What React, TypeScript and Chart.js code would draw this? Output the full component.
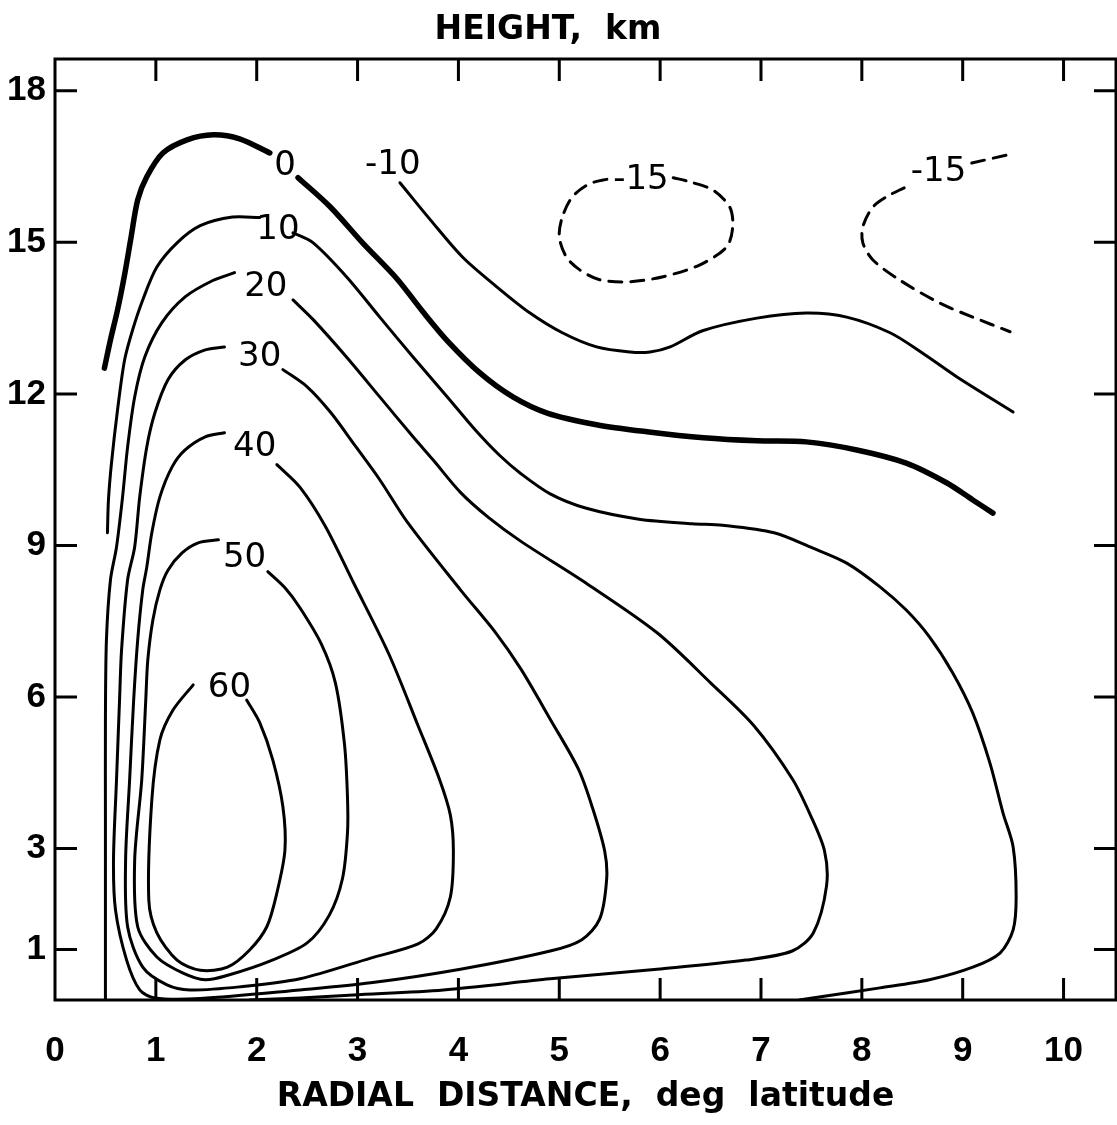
import React, { useEffect, useRef } from "react";
import { Chart, registerables } from "chart.js";

Chart.register(...registerables);

type Pt = [number, number];

// ---- axes ----
const xTickValues = [0, 1, 2, 3, 4, 5, 6, 7, 8, 9, 10];
const yTickValues = [1, 3, 6, 9, 12, 15, 18];
const xAxisMax = 10.52;
const yAxisMax = 18.63;

// ---- contour lines (radial distance, height) ----
const zeroLeft: Pt[] = [[0.49,12.51],[0.55,13.07],[0.62,13.66],[0.69,14.36],[0.75,15.05],[0.82,15.84],[0.91,16.30],[1.07,16.77],[1.31,17.03],[1.57,17.13],[1.83,17.05],[2.13,16.77]];
const zeroRight: Pt[] = [[2.41,16.28],[2.73,15.70],[3.05,14.99],[3.39,14.28],[3.65,13.62],[3.89,13.05],[4.21,12.42],[4.54,11.94],[4.88,11.62],[5.37,11.39],[5.87,11.25],[6.43,11.13],[6.96,11.07],[7.45,11.05],[7.95,10.89],[8.44,10.63],[8.84,10.24],[9.10,9.90],[9.30,9.64]];
const minus10: Pt[] = [[3.42,16.18],[3.72,15.45],[4.04,14.71],[4.38,14.12],[4.71,13.60],[5.03,13.21],[5.37,12.93],[5.70,12.83],[5.90,12.83],[6.10,12.93],[6.42,13.25],[6.96,13.50],[7.45,13.60],[7.85,13.52],[8.28,13.21],[8.60,12.81],[8.94,12.34],[9.50,11.64]];
const minus15Loop: Pt[] = [[6.13,16.28],[6.29,16.20],[6.52,16.04],[6.69,15.70],[6.72,15.31],[6.66,14.91],[6.39,14.55],[6.03,14.32],[5.70,14.22],[5.40,14.26],[5.20,14.46],[5.07,14.71],[5.00,15.11],[5.03,15.50],[5.13,15.90],[5.30,16.16],[5.50,16.26]];
const minus15Tail: Pt[] = [[9.09,16.57],[9.44,16.73]];
const minus15Right: Pt[] = [[8.42,16.08],[8.26,15.92],[8.11,15.70],[8.01,15.31],[8.01,14.99],[8.11,14.65],[8.37,14.26],[8.77,13.80],[9.10,13.52],[9.47,13.23]];
const ten1: Pt[] = [[2.03,15.49],[1.76,15.50],[1.44,15.33],[1.21,14.99],[1.01,14.51],[0.87,13.86],[0.77,13.27],[0.69,12.67],[0.62,11.68],[0.56,10.63],[0.53,9.90],[0.52,9.25]];
const ten2: Pt[] = [[2.36,15.19],[2.56,14.99],[2.89,14.32],[3.22,13.52],[3.55,12.73],[3.89,11.94],[4.17,11.28],[4.41,10.78],[4.62,10.42],[4.91,10.02],[5.26,9.74],[5.79,9.52],[6.32,9.43],[6.62,9.40],[7.13,9.25],[7.51,8.95],[7.85,8.65],[8.18,8.18],[8.44,7.72],[8.67,7.19],[8.90,6.48],[9.10,5.68],[9.27,4.69],[9.40,3.70],[9.50,3.03],[9.53,2.04],[9.50,1.39],[9.37,0.93],[9.10,0.65],[8.67,0.40],[8.18,0.24],[7.51,0.04],[7.38,0]];
const twenty1: Pt[] = [[1.78,14.40],[1.56,14.24],[1.29,13.92],[1.06,13.41],[0.89,12.73],[0.79,11.94],[0.72,10.95],[0.67,9.96],[0.61,8.97],[0.55,8.32],[0.51,7.13],[0.50,5.54],[0.50,3.56],[0.50,1.98],[0.50,0]];
const twenty2: Pt[] = [[2.36,13.86],[2.56,13.47],[2.89,12.73],[3.22,11.94],[3.55,11.15],[3.75,10.69],[4.02,10.05],[4.30,9.55],[4.62,9.08],[5.26,8.26],[5.97,7.27],[6.50,6.28],[6.93,5.43],[7.31,4.38],[7.49,3.66],[7.63,2.95],[7.65,2.26],[7.52,1.33],[7.31,0.97],[6.85,0.79],[5.97,0.61],[4.91,0.42],[3.85,0.20],[2.96,0.10],[2.43,0.04],[1.93,0]];
const thirty: Pt[] = [[1.68,12.93],[1.49,12.87],[1.29,12.67],[1.12,12.28],[0.99,11.62],[0.91,10.95],[0.84,9.96],[0.79,8.97],[0.72,8.32],[0.66,6.93],[0.64,5.94],[0.61,4.36],[0.58,2.77],[0.60,1.78],[0.71,0.79],[0.84,0.20],[0.99,0.04],[1.44,0.03],[2.43,0.20],[3.13,0.34],[4.02,0.61],[4.91,0.97],[5.22,1.19],[5.40,1.60],[5.47,2.40],[5.45,2.95],[5.33,3.80],[5.19,4.57],[4.91,5.56],[4.62,6.55],[4.37,7.27],[4.02,8.12],[3.49,9.47],[3.22,10.30],[2.97,10.99],[2.73,11.64],[2.50,12.14],[2.26,12.48]];
const forty: Pt[] = [[1.68,11.23],[1.49,11.15],[1.29,10.89],[1.16,10.55],[1.04,9.96],[0.96,9.25],[0.91,8.57],[0.87,8.12],[0.82,7.13],[0.78,5.94],[0.74,4.36],[0.70,2.77],[0.72,1.45],[0.87,0.65],[1.11,0.30],[1.34,0.20],[1.83,0.26],[2.43,0.42],[3.13,0.83],[3.60,1.11],[3.78,1.41],[3.92,2.04],[3.95,2.95],[3.92,3.66],[3.81,4.38],[3.60,5.43],[3.31,6.85],[2.96,8.26],[2.68,9.38],[2.43,10.15],[2.20,10.60]];
const fifty: Pt[] = [[1.62,9.11],[1.42,9.05],[1.26,8.85],[1.12,8.51],[1.04,8.12],[0.97,7.52],[0.92,6.73],[0.90,5.94],[0.86,4.36],[0.79,2.77],[0.82,1.45],[1.01,0.85],[1.27,0.53],[1.49,0.40],[1.73,0.50],[2.13,0.77],[2.50,1.13],[2.72,1.68],[2.85,2.40],[2.90,3.31],[2.90,4.02],[2.87,5.07],[2.78,6.28],[2.64,7.05],[2.43,7.76],[2.28,8.16],[2.11,8.48]];
const sixty: Pt[] = [[1.37,6.24],[1.17,5.74],[1.04,5.15],[0.96,3.96],[0.93,1.98],[1.01,1.33],[1.21,0.79],[1.44,0.59],[1.71,0.65],[1.93,0.99],[2.10,1.45],[2.20,2.12],[2.28,2.97],[2.26,3.82],[2.16,4.75],[2.03,5.49],[1.90,5.94]];

// ---- contour labels ----
const contourLabelText = ["0", "10", "20", "30", "40", "50", "60", "-10", "-15", "-15"];
const contourLabelX = [2.28, 2.21, 2.09, 2.03, 1.98, 1.88, 1.73, 3.35, 5.81, 8.76];
const contourLabelY = [16.50, 15.25, 14.12, 12.73, 10.95, 8.74, 6.18, 16.53, 16.24, 16.38];

const thickLines = [zeroLeft, zeroRight];
const thinLines = [minus10, ten1, ten2, twenty1, twenty2, thirty, forty, fifty, sixty];
const dashedLines = [minus15Loop, minus15Tail, minus15Right];

const FONT = '"DejaVu Sans", sans-serif';
const TICK_FONT = '"Liberation Sans", Arial, sans-serif';

const overlayPlugin = {
  id: "overlay",
  afterDatasetsDraw(chart: any) {
    const { ctx, chartArea: ca, scales } = chart;
    const xs = scales.x;
    const ys = scales.y;
    ctx.save();
    // contour labels
    ctx.fillStyle = "#000";
    ctx.font = `34px ${FONT}`;
    ctx.textAlign = "center";
    ctx.textBaseline = "middle";
    contourLabelText.forEach((t, i) => {
      ctx.fillText(t, xs.getPixelForValue(contourLabelX[i]), ys.getPixelForValue(contourLabelY[i]));
    });
    // frame
    ctx.strokeStyle = "#000";
    ctx.lineWidth = 3;
    ctx.strokeRect(ca.left, ca.top, ca.right - ca.left, ca.bottom - ca.top);
    // inward ticks
    const tl = 22;
    ctx.beginPath();
    xTickValues.forEach((v) => {
      if (v === 0) return;
      const p = xs.getPixelForValue(v);
      ctx.moveTo(p, ca.bottom);
      ctx.lineTo(p, ca.bottom - tl);
      ctx.moveTo(p, ca.top);
      ctx.lineTo(p, ca.top + tl);
    });
    yTickValues.forEach((v) => {
      const p = ys.getPixelForValue(v);
      ctx.moveTo(ca.left, p);
      ctx.lineTo(ca.left + tl, p);
      ctx.moveTo(ca.right, p);
      ctx.lineTo(ca.right - tl, p);
    });
    ctx.stroke();
    // top title
    ctx.font = `bold 33px ${FONT}`;
    ctx.textAlign = "center";
    ctx.textBaseline = "middle";
    ctx.fillText("HEIGHT,  km", 548, 30);
    ctx.restore();
  },
};

function toDataset(pts: Pt[], width: number, dash: number[]) {
  return {
    data: pts.map(([x, y]) => ({ x, y })),
    borderColor: "#000",
    borderWidth: width,
    borderDash: dash,
    borderCapStyle: "round" as const,
    pointRadius: 0,
    tension: 0.3,
    fill: false,
  };
}

export default function App() {
  const ref = useRef<HTMLCanvasElement>(null);
  useEffect(() => {
    const datasets = [
      ...thickLines.map((p) => toDataset(p, 5.5, [])),
      ...thinLines.map((p) => toDataset(p, 3, [])),
      ...dashedLines.map((p) => toDataset(p, 3, [13, 9])),
    ];
    const chart = new Chart(ref.current as HTMLCanvasElement, {
      type: "line",
      data: { datasets },
      options: {
        animation: false,
        responsive: false,
        devicePixelRatio: 1,
        layout: { padding: { top: 59, right: 1, left: 0, bottom: 0 } },
        plugins: {
          legend: { display: false },
          tooltip: { enabled: false },
          title: { display: false },
        },
        scales: {
          x: {
            type: "linear",
            min: 0,
            max: xAxisMax,
            grid: { display: false, drawTicks: false },
            border: { display: false },
            afterBuildTicks: (s: any) => {
              s.ticks = xTickValues.map((v) => ({ value: v }));
            },
            afterFit: (s: any) => {
              s.height = 125;
            },
            ticks: {
              color: "#000",
              padding: 30,
              maxRotation: 0,
              autoSkip: false,
              font: { family: TICK_FONT, size: 35, weight: "bold" },
              callback: (v: any) => String(v),
            },
            title: {
              display: true,
              text: "RADIAL  DISTANCE,  deg  latitude",
              color: "#000",
              font: { family: FONT, size: 33, weight: "bold" },
              padding: { top: 0, bottom: 8 },
            },
          },
          y: {
            type: "linear",
            min: 0,
            max: yAxisMax,
            grid: { display: false, drawTicks: false },
            border: { display: false },
            afterBuildTicks: (s: any) => {
              s.ticks = yTickValues.map((v) => ({ value: v }));
            },
            afterFit: (s: any) => {
              s.width = 55;
            },
            ticks: {
              color: "#000",
              padding: 9,
              autoSkip: false,
              font: { family: TICK_FONT, size: 35, weight: "bold" },
              callback: (v: any) => String(v),
            },
          },
        },
      },
      plugins: [overlayPlugin],
    } as any);
    return () => chart.destroy();
  }, []);
  return (
    <div style={{ position: "absolute", left: 0, top: 0, width: 1117, height: 1125, background: "#fff" }}>
      <canvas ref={ref} width={1117} height={1125} style={{ display: "block", width: 1117, height: 1125 }} />
    </div>
  );
}
